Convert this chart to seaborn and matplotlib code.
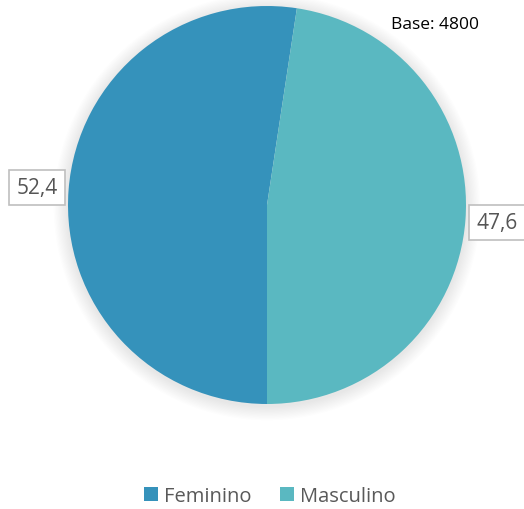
import matplotlib
matplotlib.use("Agg")
import matplotlib.pyplot as plt
import seaborn as sns
import numpy as np

categories = ["Feminino", "Masculino"]
values = [52.4, 47.6]
colors = ["#3592BB", "#5AB8C1"]
base_text = "Base: 4800"

sns.set_theme(style="white")
plt.rcParams['font.family'] = ['Open Sans', 'DejaVu Sans']

W, H = 524, 510
fig = plt.figure(figsize=(W / 100, H / 100), dpi=100)
fig.patch.set_facecolor("white")

cx, cy, r = 267, 206, 199
ax = fig.add_axes([(cx - r) / W, (H - cy - r) / H, 2 * r / W, 2 * r / H])
ax.axis("off")

# soft shadow around the pie
for k in range(12):
    rr = 1.0 + 0.006 * (k + 1)
    c = plt.Circle((0, -0.01), rr, color="#000000", alpha=0.009, lw=0, zorder=0)
    c.set_clip_on(False)
    ax.add_patch(c)

def fmt(p):
    return f"{p:.1f}".replace(".", ",")

wedges, texts, autotexts = ax.pie(
    values, colors=colors, startangle=270, counterclock=False,
    autopct=fmt, pctdistance=1.16, radius=1,
    wedgeprops=dict(linewidth=0),
    textprops=dict(fontsize=15, color="#555555"))
for t in autotexts:
    t.set_bbox(dict(boxstyle="square,pad=0.35", facecolor="white", edgecolor="#BFBFBF", linewidth=1.2))
    t.set_clip_on(False)
ax.set_xlim(-1, 1)
ax.set_ylim(-1, 1)
ax.set_aspect("auto")

fig.text(435 / W, 1 - 25 / H, base_text, ha="center", va="center", fontsize=12.5, color="black")

leg = fig.legend(wedges, categories, loc="center", bbox_to_anchor=(270 / W, 1 - 497 / H),
                 ncol=2, frameon=False, fontsize=14.5, handlelength=0.7, handleheight=0.7,
                 handletextpad=0.3, columnspacing=1.4, labelcolor="#595959")
for h in leg.legend_handles:
    h.set_edgecolor("none")

fig.savefig("out.png", dpi=100, facecolor="white")
